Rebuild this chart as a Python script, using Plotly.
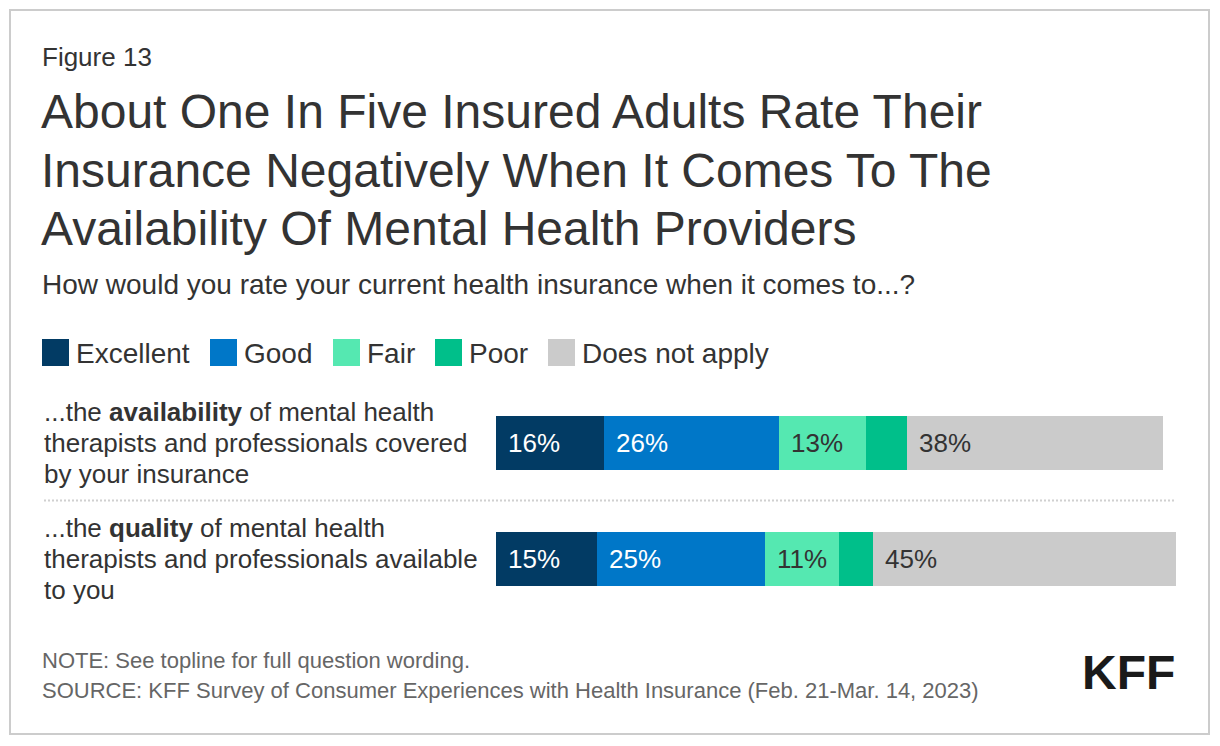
import plotly.graph_objects as go

W, H = 1220, 746
FONT = "Liberation Sans, Arial, Helvetica, sans-serif"

# ---------------- data ----------------
series = ["Excellent", "Good", "Fair", "Poor", "Does not apply"]
colors = ["#023b64", "#0077c8", "#55e8b1", "#00bf8a", "#cbcbcb"]
label_colors = ["#ffffff", "#ffffff", "#333333", "#333333", "#333333"]

category_lines = [
    ["...the <b>availability</b> of mental health",
     "therapists and professionals covered",
     "by your insurance"],
    ["...the <b>quality</b> of mental health",
     "therapists and professionals available",
     "to you"],
]
excellent = [16, 15]
good = [26, 25]
fair = [13, 11]
poor = [6, 5]
not_apply = [38, 45]
values = [excellent, good, fair, poor, not_apply]

figure_label = "Figure 13"
title_lines = [
    "About One In Five Insured Adults Rate Their",
    "Insurance Negatively When It Comes To The",
    "Availability Of Mental Health Providers",
]
subtitle = "How would you rate your current health insurance when it comes to...?"
note = "NOTE: See topline for full question wording."
source = "SOURCE: KFF Survey of Consumer Experiences with Health Insurance (Feb. 21-Mar. 14, 2023)"
logo = "KFF"


def px(x):
    return x / W


def py(y):
    return 1 - y / H


# ---------------- figure ----------------
fig = go.Figure()
ypos = list(range(len(category_lines)))
for name, vals, col in zip(series, values, colors):
    fig.add_trace(go.Bar(
        y=ypos, x=vals, name=name, orientation="h",
        marker=dict(color=col, line=dict(width=0)),
        width=0.4655, showlegend=False, hoverinfo="x+name",
    ))

annotations = []
# value labels inside bars
for j in ypos:
    base = 0
    for i, vals in enumerate(values):
        v = vals[j]
        if v >= 8:
            annotations.append(dict(
                x=base, y=j, xref="x", yref="y", xanchor="left", yanchor="middle",
                xshift=10, text=f"{v}%", showarrow=False,
                font=dict(size=26, color=label_colors[i], family=FONT),
            ))
        base += v

# category labels (left aligned, one annotation per line)
for j, lines in enumerate(category_lines):
    yc = 443 + 116 * j
    for k, line in enumerate(lines):
        annotations.append(dict(
            x=px(42), y=py(yc + (k - 1) * 31), xref="paper", yref="paper",
            xanchor="left", yanchor="middle", text=line, showarrow=False,
            font=dict(size=26, color="#333333", family=FONT),
        ))

# figure label, title, subtitle
annotations.append(dict(x=px(40), y=py(57), xref="paper", yref="paper",
                        xanchor="left", yanchor="middle", text=figure_label,
                        showarrow=False, font=dict(size=26, color="#333333", family=FONT)))
for k, line in enumerate(title_lines):
    annotations.append(dict(x=px(39), y=py(112 + 58 * k), xref="paper", yref="paper",
                            xanchor="left", yanchor="middle", text=line, showarrow=False,
                            font=dict(size=48, color="#333333", family=FONT)))
annotations.append(dict(x=px(40), y=py(284.5), xref="paper", yref="paper",
                        xanchor="left", yanchor="middle", text=subtitle, showarrow=False,
                        font=dict(size=28, color="#333333", family=FONT)))

# legend (manual)
shapes = []
legend_x = [42, 210, 333, 435, 548]
for name, col, lx in zip(series, colors, legend_x):
    shapes.append(dict(type="rect", xref="paper", yref="paper",
                       x0=px(lx), x1=px(lx + 27), y0=py(366), y1=py(339),
                       fillcolor=col, line=dict(width=0)))
    annotations.append(dict(x=px(lx + 32), y=py(353), xref="paper", yref="paper",
                            xanchor="left", yanchor="middle", text=name, showarrow=False,
                            font=dict(size=28, color="#333333", family=FONT)))

# note / source / logo
annotations.append(dict(x=px(40), y=py(660), xref="paper", yref="paper",
                        xanchor="left", yanchor="middle", text=note, showarrow=False,
                        font=dict(size=22, color="#666666", family=FONT)))
annotations.append(dict(x=px(40), y=py(690), xref="paper", yref="paper",
                        xanchor="left", yanchor="middle", text=source, showarrow=False,
                        font=dict(size=22, color="#666666", family=FONT)))
annotations.append(dict(x=px(1177), y=py(672), xref="paper", yref="paper",
                        xanchor="right", yanchor="middle", text=f"<b>{logo}</b>", showarrow=False,
                        font=dict(size=48, color="#1a1a1a", family=FONT)))

# dotted separator
shapes.append(dict(type="line", xref="paper", yref="paper",
                   x0=px(44), x1=px(1176), y0=py(500.5), y1=py(500.5),
                   line=dict(color="#d0d0d0", width=2, dash="2px,2px")))
# frame
shapes.append(dict(type="rect", xref="paper", yref="paper",
                   x0=px(10), x1=px(1209), y0=py(734), y1=py(10),
                   line=dict(color="#cccccc", width=2), fillcolor="rgba(0,0,0,0)"))

fig.update_layout(
    width=W, height=H, barmode="stack",
    margin=dict(l=0, r=0, t=0, b=0),
    paper_bgcolor="white", plot_bgcolor="white",
    xaxis=dict(domain=[px(496), px(1176)], range=[0, 101], visible=False, fixedrange=True),
    yaxis=dict(domain=[py(617), py(385)], range=[1.5, -0.5], visible=False, fixedrange=True),
    annotations=annotations, shapes=shapes,
    font=dict(family=FONT),
    showlegend=False,
)

fig.write_html(
    "out.html",
    config={"displayModeBar": False},
    post_script="document.body.style.margin='0';document.body.style.overflow='hidden';",
)
